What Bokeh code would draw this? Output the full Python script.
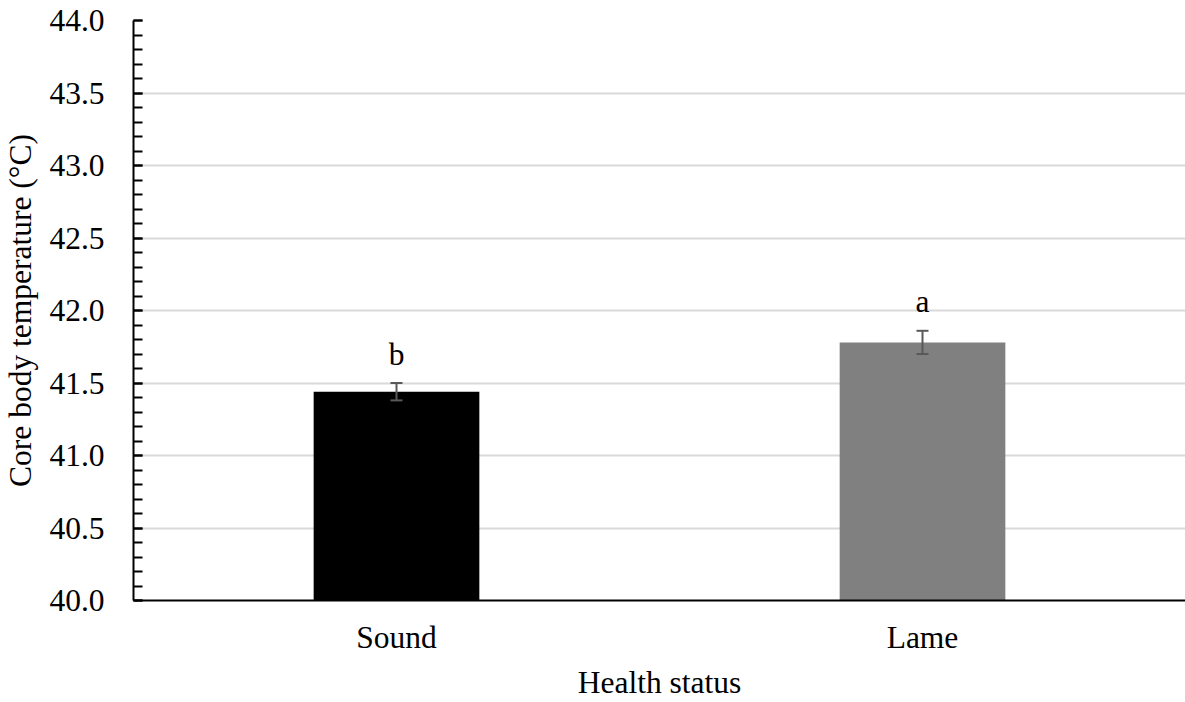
from bokeh.plotting import figure
from bokeh.models import (ColumnDataSource, FactorRange, Range1d, SingleIntervalTicker,
                          PrintfTickFormatter, Whisker, TeeHead, LabelSet)
from bokeh.embed import file_html
from bokeh.resources import INLINE

categories = ["Sound", "Lame"]
means = [41.44, 41.78]
errors = [0.06, 0.08]
letters = ["b", "a"]
bar_colors = ["#000000", "#808080"]

FONT = "Liberation Serif"
FS = "31.5px"

upper = [m + e for m, e in zip(means, errors)]
lower = [m - e for m, e in zip(means, errors)]
label_y = [u + 0.2 for u in upper]

src = ColumnDataSource(dict(cat=categories, mean=means, upper=upper, lower=lower,
                            letter=letters, ly=label_y, color=bar_colors))

p = figure(x_range=FactorRange(*categories, range_padding=0), y_range=Range1d(40, 44),
           width=1185, height=702, output_backend="svg", toolbar_location=None,
           min_border_left=133, min_border_right=0, min_border_top=20, min_border_bottom=101)

p.vbar(x="cat", top="mean", bottom=40, width=0.315, fill_color="color", line_color=None, source=src)

wh = Whisker(base="cat", upper="upper", lower="lower", source=src, level="overlay",
             line_color="#595959", line_width=2,
             upper_head=TeeHead(size=12, line_color="#595959", line_width=2),
             lower_head=TeeHead(size=12, line_color="#595959", line_width=2))
p.add_layout(wh)

labels = LabelSet(x="cat", y="ly", text="letter", source=src, text_align="center",
                  text_baseline="middle", text_font=FONT, text_font_size=FS, text_color="black")
p.add_layout(labels)

p.outline_line_color = None
p.xgrid.visible = False
p.ygrid.grid_line_color = "#d9d9d9"
p.ygrid.grid_line_width = 2

ya = p.yaxis[0]
ya.ticker = SingleIntervalTicker(interval=0.5, num_minor_ticks=5)
ya.formatter = PrintfTickFormatter(format="%.1f")
ya.axis_line_width = 2
ya.axis_line_color = "black"
ya.major_tick_in = 9
ya.major_tick_out = 0
ya.minor_tick_in = 9
ya.minor_tick_out = 0
ya.major_tick_line_width = 2
ya.minor_tick_line_width = 2
ya.major_tick_line_color = "black"
ya.minor_tick_line_color = "black"
ya.major_label_standoff = 29
ya.major_label_text_font = FONT
ya.major_label_text_font_size = FS
ya.major_label_text_color = "black"
ya.axis_label = "Core body temperature (°C)"
ya.axis_label_text_font = FONT
ya.axis_label_text_font_size = FS
ya.axis_label_text_font_style = "normal"
ya.axis_label_text_color = "black"
ya.axis_label_standoff = 8

xa = p.xaxis[0]
xa.axis_line_width = 2
xa.axis_line_color = "black"
xa.major_tick_in = 0
xa.major_tick_out = 0
xa.minor_tick_in = 0
xa.minor_tick_out = 0
xa.major_label_standoff = 19
xa.major_label_text_font = FONT
xa.major_label_text_font_size = FS
xa.major_label_text_color = "black"
xa.axis_label = "Health status"
xa.axis_label_text_font = FONT
xa.axis_label_text_font_size = FS
xa.axis_label_text_font_style = "normal"
xa.axis_label_text_color = "black"
xa.axis_label_standoff = 7

open("out.html", "w").write(file_html(p, INLINE))
